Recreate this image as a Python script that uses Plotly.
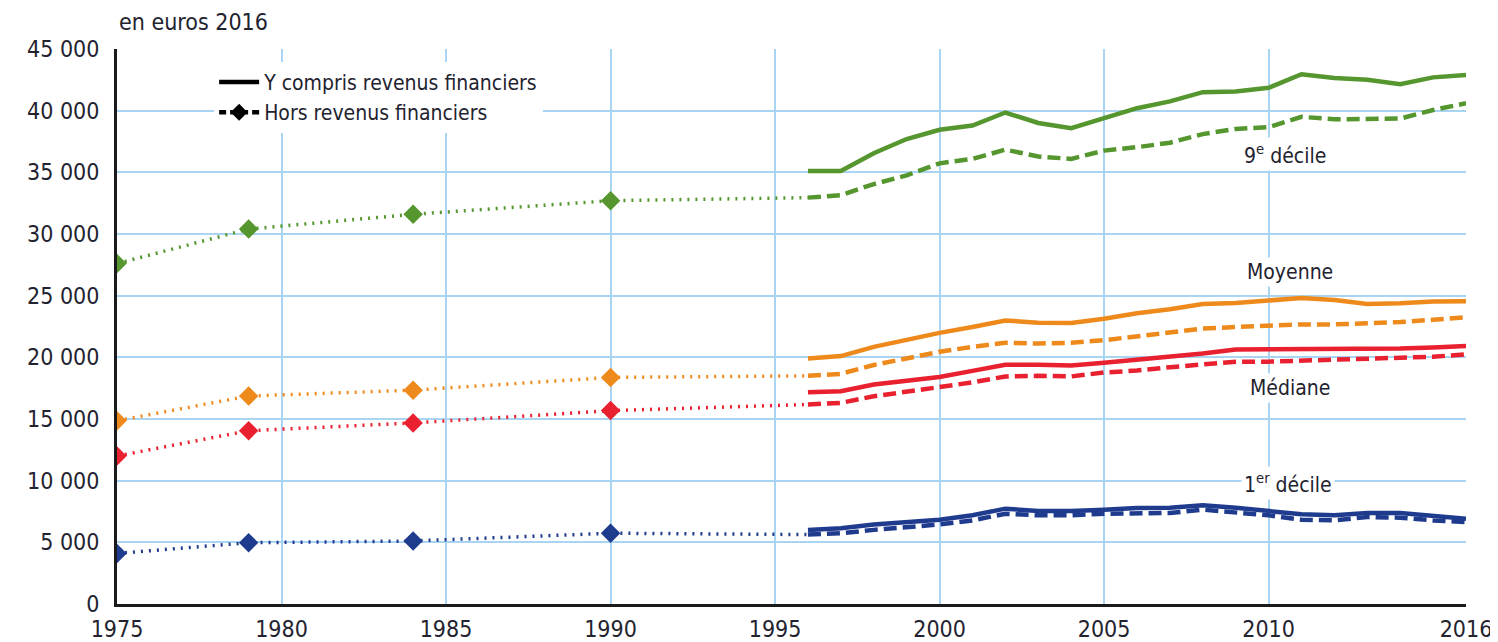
import plotly.graph_objects as go

# ---------------- data ----------------
years = list(range(1996, 2017))
old_years = [1975, 1979, 1984, 1990]

# 9e décile
d9_old = [27600, 30400, 31600, 32700]
d9_with = [35100, 35100, 36550, 37700, 38450, 38800, 39850, 39000, 38580, 39350, 40200,
           40750, 41500, 41550, 41850, 42950, 42650, 42500, 42150, 42700, 42900]
d9_without = [32950, 33150, 34050, 34750, 35730, 36090, 36840, 36280, 36090, 36760, 37040,
              37400, 38100, 38520, 38660, 39500, 39300, 39360, 39360, 40050, 40600]

# Moyenne
moy_old = [14860, 16860, 17340, 18370]
moy_with = [19900, 20100, 20850, 21440, 21980, 22460, 22990, 22800, 22780, 23130, 23580,
            23900, 24330, 24410, 24600, 24810, 24650, 24330, 24380, 24520, 24550]
moy_without = [18500, 18660, 19380, 19920, 20450, 20850, 21180, 21120, 21180, 21390, 21710,
               22060, 22330, 22460, 22590, 22670, 22670, 22730, 22860, 23050, 23260]

# Médiane
med_old = [12000, 14050, 14680, 15680]
med_with = [17170, 17250, 17790, 18050, 18400, 18900, 19390, 19390, 19330, 19570, 19790,
            20100, 20320, 20640, 20640, 20720, 20670, 20670, 20720, 20800, 20910]
med_without = [16180, 16310, 16840, 17170, 17590, 17970, 18450, 18500, 18450, 18770, 18930,
               19200, 19470, 19650, 19650, 19730, 19790, 19840, 19920, 20050, 20240]

# 1er décile
d1_old = [4100, 4970, 5110, 5740]
d1_with = [6010, 6150, 6450, 6640, 6830, 7190, 7730, 7540, 7540, 7650, 7790,
           7810, 8000, 7810, 7540, 7270, 7190, 7380, 7380, 7100, 6910]
d1_without = [5630, 5740, 6010, 6230, 6450, 6780, 7320, 7190, 7190, 7320, 7380,
              7380, 7650, 7460, 7190, 6830, 6780, 7050, 7000, 6780, 6640]

series_names = ["9<sup>e</sup> décile", "Moyenne", "Médiane", "1<sup>er</sup> décile"]
label_x = [2010.5, 2010.65, 2010.65, 2010.6]
label_y = [36500, 26950, 17500, 9800]

x_tickvals = [1975, 1980, 1985, 1990, 1995, 2000, 2005, 2010, 2016]
x_ticktext = ["1975", "1980", "1985", "1990", "1995", "2000", "2005", "2010", "2016"]
y_tickvals = [0, 5000, 10000, 15000, 20000, 25000, 30000, 35000, 40000, 45000]
y_ticktext = ["0", "5 000", "10 000", "15 000", "20 000", "25 000", "30 000",
              "35 000", "40 000", "45 000"]

legend_labels = ["Y compris revenus financiers", "Hors revenus financiers"]

# ---------------- style ----------------
colors = ["#55962f", "#ee8a1c", "#e8202f", "#1f3b8e"]
FONT = "DejaVu Sans Condensed, Liberation Sans Narrow, sans-serif"
TEXT = "#23232f"
GRID = "#a9d5f3"

fig = go.Figure()

groups = [
    (d9_old, d9_with, d9_without),
    (moy_old, moy_with, moy_without),
    (med_old, med_with, med_without),
    (d1_old, d1_with, d1_without),
]

for (old, w, wo), c in zip(groups, colors):
    # dotted historical series joined to first annual point
    fig.add_trace(go.Scatter(
        x=old_years + [years[0]], y=old + [wo[0]],
        mode="lines+markers",
        line=dict(color=c, width=3.5, dash="2px,6px"),
        marker=dict(symbol="diamond", size=[15] * len(old) + [0], color=c,
                    opacity=1, line=dict(width=0)),
        showlegend=False, hoverinfo="skip"))
    fig.add_trace(go.Scatter(
        x=years, y=wo, mode="lines",
        line=dict(color=c, width=4.5, dash="13px,6px"),
        showlegend=False))
    fig.add_trace(go.Scatter(
        x=years, y=w, mode="lines",
        line=dict(color=c, width=4.5),
        showlegend=False))

# legend entries
fig.add_trace(go.Scatter(x=[None], y=[None], mode="lines", name=legend_labels[0],
                         line=dict(color="black", width=4.5)))
fig.add_trace(go.Scatter(x=[None], y=[None], mode="lines+markers", name=legend_labels[1],
                         line=dict(color="black", width=4.5, dash="7px,4px"),
                         marker=dict(symbol="diamond", size=13, color="black",
                                     opacity=1, line=dict(width=0))))

for name, lx, ly in zip(series_names, label_x, label_y):
    fig.add_annotation(x=lx, y=ly, text=name, showarrow=False,
                       font=dict(family=FONT, size=21, color=TEXT),
                       bgcolor="white", borderpad=2)

fig.add_annotation(xref="paper", yref="paper", x=0, y=1.0486, xanchor="left",
                   yanchor="middle", text="en euros 2016", showarrow=False,
                   font=dict(family=FONT, size=23, color=TEXT))

# page body has an 8px margin: figure sized/offset to fill the 1498x642 window
fig.update_layout(
    template="none",
    width=1490, height=634,
    margin=dict(l=109, r=32, t=41, b=38, autoexpand=False),
    paper_bgcolor="white", plot_bgcolor="white",
    font=dict(family=FONT, color=TEXT),
    showlegend=True,
    legend=dict(x=0.072, y=0.977, xanchor="left", yanchor="top",
                bgcolor="white", borderwidth=0,
                font=dict(family=FONT, size=21, color=TEXT),
                tracegroupgap=0, itemwidth=40),
)
fig.update_xaxes(range=[1975, 2016], tickvals=x_tickvals, ticktext=x_ticktext,
                 automargin=False,
                 showgrid=True, gridcolor=GRID, gridwidth=1.5,
                 showline=True, linecolor="#1a1a1a", linewidth=3,
                 zeroline=False, ticks="", ticklabelstandoff=2,
                 tickfont=dict(family=FONT, size=23, color=TEXT))
fig.update_yaxes(range=[0, 45000], tickvals=y_tickvals, ticktext=y_ticktext,
                 automargin=False,
                 showgrid=True, gridcolor=GRID, gridwidth=1.5,
                 showline=True, linecolor="#1a1a1a", linewidth=3,
                 zeroline=False, ticks="", ticklabelstandoff=10,
                 tickfont=dict(family=FONT, size=23, color=TEXT))

fig.write_html("out.html")
